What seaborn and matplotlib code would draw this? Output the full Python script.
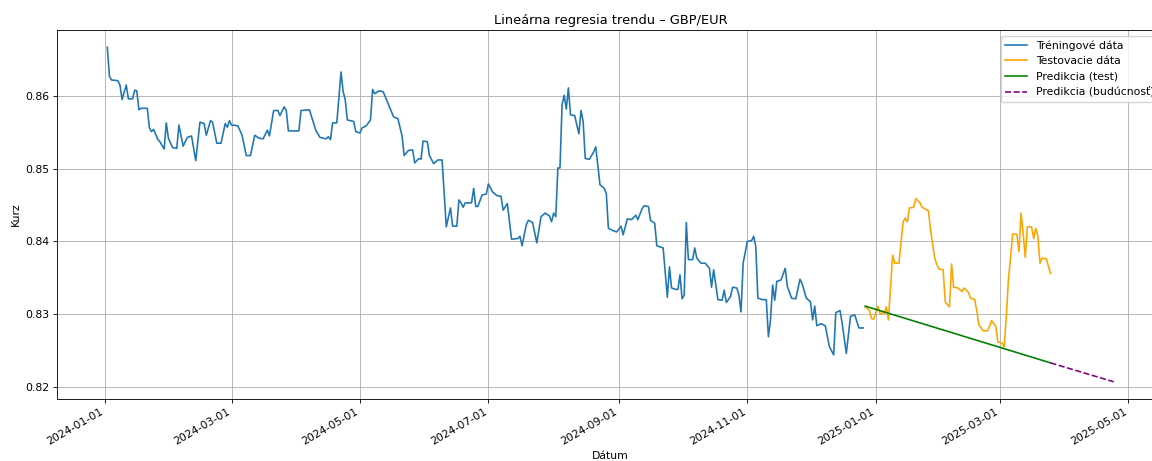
import matplotlib
matplotlib.use("Agg")
import matplotlib.pyplot as plt
import matplotlib.dates as mdates
import pandas as pd
import seaborn as sns

# --- GBP/EUR exchange rate: training period -------------------------------
train_dates = [
    "2024-01-02", "2024-01-03", "2024-01-04", "2024-01-07", "2024-01-08", "2024-01-09",
    "2024-01-11", "2024-01-12", "2024-01-14", "2024-01-15", "2024-01-16", "2024-01-17",
    "2024-01-18", "2024-01-21", "2024-01-22", "2024-01-23", "2024-01-24", "2024-01-26",
    "2024-01-27", "2024-01-29", "2024-01-30", "2024-01-31", "2024-02-02", "2024-02-04",
    "2024-02-05", "2024-02-07", "2024-02-09", "2024-02-11", "2024-02-13", "2024-02-15",
    "2024-02-17", "2024-02-18", "2024-02-20", "2024-02-21", "2024-02-23", "2024-02-25",
    "2024-02-27", "2024-02-28", "2024-02-29", "2024-03-01", "2024-03-04", "2024-03-06",
    "2024-03-08", "2024-03-10", "2024-03-12", "2024-03-14", "2024-03-16", "2024-03-18",
    "2024-03-19", "2024-03-21", "2024-03-23", "2024-03-24", "2024-03-26", "2024-03-27",
    "2024-03-28", "2024-04-02", "2024-04-03", "2024-04-07", "2024-04-10", "2024-04-12",
    "2024-04-15", "2024-04-16", "2024-04-17", "2024-04-18", "2024-04-20", "2024-04-22",
    "2024-04-23", "2024-04-24", "2024-04-25", "2024-04-28", "2024-04-29", "2024-05-01",
    "2024-05-02", "2024-05-04", "2024-05-06", "2024-05-07", "2024-05-08", "2024-05-10",
    "2024-05-12", "2024-05-13", "2024-05-15", "2024-05-17", "2024-05-19", "2024-05-21",
    "2024-05-22", "2024-05-24", "2024-05-26", "2024-05-27", "2024-05-29", "2024-05-30",
    "2024-05-31", "2024-06-02", "2024-06-03", "2024-06-05", "2024-06-07", "2024-06-09",
    "2024-06-11", "2024-06-13", "2024-06-14", "2024-06-16", "2024-06-17", "2024-06-18",
    "2024-06-19", "2024-06-20", "2024-06-23", "2024-06-24", "2024-06-25", "2024-06-26",
    "2024-06-28", "2024-06-30", "2024-07-01", "2024-07-03", "2024-07-05", "2024-07-07",
    "2024-07-08", "2024-07-10", "2024-07-12", "2024-07-15", "2024-07-16", "2024-07-17",
    "2024-07-19", "2024-07-20", "2024-07-22", "2024-07-24", "2024-07-26", "2024-07-28",
    "2024-07-30", "2024-07-31", "2024-08-01", "2024-08-02", "2024-08-03", "2024-08-04",
    "2024-08-05", "2024-08-06", "2024-08-07", "2024-08-08", "2024-08-09", "2024-08-11",
    "2024-08-12", "2024-08-13", "2024-08-14", "2024-08-15", "2024-08-16", "2024-08-18",
    "2024-08-20", "2024-08-21", "2024-08-23", "2024-08-25", "2024-08-26", "2024-08-27",
    "2024-08-29", "2024-08-31", "2024-09-02", "2024-09-03", "2024-09-05", "2024-09-07",
    "2024-09-09", "2024-09-10", "2024-09-12", "2024-09-13", "2024-09-15", "2024-09-16",
    "2024-09-18", "2024-09-19", "2024-09-22", "2024-09-24", "2024-09-25", "2024-09-26",
    "2024-09-28", "2024-09-29", "2024-09-30", "2024-10-01", "2024-10-02", "2024-10-03",
    "2024-10-04", "2024-10-06", "2024-10-07", "2024-10-08", "2024-10-10", "2024-10-12",
    "2024-10-14", "2024-10-15", "2024-10-16", "2024-10-18", "2024-10-20", "2024-10-21",
    "2024-10-22", "2024-10-24", "2024-10-25", "2024-10-27", "2024-10-28", "2024-10-29",
    "2024-10-30", "2024-11-01", "2024-11-03", "2024-11-04", "2024-11-05", "2024-11-06",
    "2024-11-08", "2024-11-10", "2024-11-11", "2024-11-12", "2024-11-13", "2024-11-14",
    "2024-11-15", "2024-11-17", "2024-11-19", "2024-11-20", "2024-11-22", "2024-11-24",
    "2024-11-26", "2024-11-27", "2024-11-29", "2024-12-01", "2024-12-02", "2024-12-03",
    "2024-12-04", "2024-12-06", "2024-12-08", "2024-12-10", "2024-12-12", "2024-12-13",
    "2024-12-15", "2024-12-16", "2024-12-18", "2024-12-20", "2024-12-22", "2024-12-24",
    "2024-12-26",
]
train_rates = [
    0.8667, 0.8627, 0.8622, 0.8621, 0.8615, 0.8595,
    0.8615, 0.8596, 0.8596, 0.8608, 0.8607, 0.8581,
    0.8583, 0.8583, 0.8556, 0.8551, 0.8554, 0.8540,
    0.8537, 0.8527, 0.8563, 0.8542, 0.8529, 0.8528,
    0.8560, 0.8531, 0.8543, 0.8545, 0.8511, 0.8564,
    0.8562, 0.8546, 0.8566, 0.8564, 0.8535, 0.8535,
    0.8562, 0.8557, 0.8566, 0.8560, 0.8559, 0.8546,
    0.8518, 0.8518, 0.8546, 0.8542, 0.8541, 0.8553,
    0.8545, 0.8580, 0.8580, 0.8573, 0.8585, 0.8580,
    0.8552, 0.8552, 0.8580, 0.8581, 0.8553, 0.8543,
    0.8541, 0.8544, 0.8540, 0.8563, 0.8563, 0.8633,
    0.8606, 0.8595, 0.8567, 0.8565, 0.8551, 0.8549,
    0.8556, 0.8559, 0.8567, 0.8609, 0.8603, 0.8607,
    0.8606, 0.8599, 0.8585, 0.8571, 0.8569, 0.8545,
    0.8518, 0.8525, 0.8526, 0.8508, 0.8514, 0.8513,
    0.8538, 0.8537, 0.8518, 0.8507, 0.8512, 0.8512,
    0.8420, 0.8446, 0.8421, 0.8421, 0.8457, 0.8453,
    0.8447, 0.8453, 0.8453, 0.8473, 0.8448, 0.8448,
    0.8464, 0.8465, 0.8479, 0.8468, 0.8463, 0.8462,
    0.8443, 0.8452, 0.8403, 0.8404, 0.8407, 0.8394,
    0.8423, 0.8429, 0.8426, 0.8398, 0.8434, 0.8439,
    0.8435, 0.8427, 0.8439, 0.8434, 0.8501, 0.8501,
    0.8588, 0.8601, 0.8582, 0.8611, 0.8574, 0.8573,
    0.8560, 0.8548, 0.8580, 0.8565, 0.8514, 0.8513,
    0.8523, 0.8530, 0.8478, 0.8473, 0.8466, 0.8418,
    0.8415, 0.8413, 0.8421, 0.8409, 0.8431, 0.8430,
    0.8436, 0.8430, 0.8445, 0.8449, 0.8448, 0.8429,
    0.8425, 0.8394, 0.8391, 0.8323, 0.8365, 0.8336,
    0.8334, 0.8334, 0.8354, 0.8321, 0.8326, 0.8426,
    0.8375, 0.8375, 0.8391, 0.8377, 0.8370, 0.8370,
    0.8363, 0.8337, 0.8361, 0.8320, 0.8319, 0.8333,
    0.8316, 0.8324, 0.8337, 0.8336, 0.8326, 0.8303,
    0.8370, 0.8400, 0.8401, 0.8407, 0.8393, 0.8322,
    0.8320, 0.8320, 0.8269, 0.8292, 0.8340, 0.8319,
    0.8345, 0.8347, 0.8363, 0.8338, 0.8322, 0.8321,
    0.8348, 0.8342, 0.8322, 0.8317, 0.8292, 0.8311,
    0.8284, 0.8287, 0.8284, 0.8255, 0.8244, 0.8302,
    0.8305, 0.8288, 0.8246, 0.8297, 0.8299, 0.8281,
    0.8281,
]

# --- test period ---------------------------------------------------------
test_dates = [
    "2024-12-27", "2024-12-29", "2024-12-30", "2024-12-31", "2025-01-02", "2025-01-03",
    "2025-01-05", "2025-01-06", "2025-01-07", "2025-01-09", "2025-01-10", "2025-01-12",
    "2025-01-14", "2025-01-15", "2025-01-16", "2025-01-17", "2025-01-19", "2025-01-20",
    "2025-01-22", "2025-01-23", "2025-01-26", "2025-01-27", "2025-01-29", "2025-01-30",
    "2025-01-31", "2025-02-02", "2025-02-03", "2025-02-04", "2025-02-05", "2025-02-06",
    "2025-02-07", "2025-02-09", "2025-02-11", "2025-02-12", "2025-02-14", "2025-02-15",
    "2025-02-17", "2025-02-18", "2025-02-19", "2025-02-21", "2025-02-23", "2025-02-24",
    "2025-02-25", "2025-02-27", "2025-02-28", "2025-03-02", "2025-03-03", "2025-03-04",
    "2025-03-05", "2025-03-06", "2025-03-07", "2025-03-09", "2025-03-10", "2025-03-11",
    "2025-03-12", "2025-03-13", "2025-03-14", "2025-03-16", "2025-03-17", "2025-03-18",
    "2025-03-19", "2025-03-20", "2025-03-21", "2025-03-23", "2025-03-25",
]
test_rates = [
    0.8310, 0.8305, 0.8294, 0.8293, 0.8311, 0.8301,
    0.8301, 0.8310, 0.8292, 0.8381, 0.8370, 0.8370,
    0.8427, 0.8432, 0.8427, 0.8446, 0.8447, 0.8459,
    0.8453, 0.8447, 0.8442, 0.8416, 0.8377, 0.8368,
    0.8362, 0.8361, 0.8317, 0.8313, 0.8310, 0.8369,
    0.8337, 0.8336, 0.8331, 0.8336, 0.8330, 0.8322,
    0.8320, 0.8304, 0.8285, 0.8277, 0.8277, 0.8283,
    0.8291, 0.8283, 0.8262, 0.8260, 0.8255, 0.8297,
    0.8347, 0.8377, 0.8410, 0.8410, 0.8386, 0.8439,
    0.8411, 0.8378, 0.8420, 0.8420, 0.8404, 0.8418,
    0.8407, 0.8370, 0.8377, 0.8376, 0.8356,
]

# --- linear trend: prediction over the test period and 30 days ahead ------
pred_test_dates = ["2024-12-27", "2025-03-25"]
pred_test_rates = [0.8311, 0.8233]
pred_future_dates = ["2025-03-25", "2025-04-24"]
pred_future_rates = [0.8233, 0.8207]

train = pd.DataFrame({"Dátum": pd.to_datetime(train_dates), "Kurz": train_rates})
test = pd.DataFrame({"Dátum": pd.to_datetime(test_dates), "Kurz": test_rates})
pred_test = pd.DataFrame({"Dátum": pd.to_datetime(pred_test_dates), "Kurz": pred_test_rates})
pred_future = pd.DataFrame({"Dátum": pd.to_datetime(pred_future_dates), "Kurz": pred_future_rates})

S = 0.78  # overall size factor for fonts and lines
plt.rcParams.update({
    "font.family": ["DejaVu Sans"],
    "font.size": 10 * S,
    "axes.linewidth": 0.8 * S,
    "xtick.major.size": 3.5 * S,
    "ytick.major.size": 3.5 * S,
    "xtick.major.width": 0.8 * S,
    "ytick.major.width": 0.8 * S,
    "xtick.major.pad": 3.5 * S,
    "ytick.major.pad": 3.5 * S,
})

fig = plt.figure(figsize=(11.52, 4.61), dpi=100)
W, H = 1152, 461
ax = fig.add_axes([57 / W, (H - 398.5) / H, (1164 - 57) / W, (398.5 - 30.5) / H])

lw = 1.5 * S
sns.lineplot(data=train, x="Dátum", y="Kurz", ax=ax, color="tab:blue", lw=lw,
             label="Tréningové dáta")
sns.lineplot(data=test, x="Dátum", y="Kurz", ax=ax, color="orange", lw=lw,
             label="Testovacie dáta")
sns.lineplot(data=pred_test, x="Dátum", y="Kurz", ax=ax, color="green", lw=lw,
             label="Predikcia (test)")
sns.lineplot(data=pred_future, x="Dátum", y="Kurz", ax=ax, color="purple", lw=lw,
             linestyle="--", label="Predikcia (budúcnosť)")

ax.set_title("Lineárna regresia trendu – GBP/EUR", fontsize=12 * S, pad=6 * S)
ax.set_xlabel("Dátum", labelpad=4 * S)
ax.set_ylabel("Kurz", labelpad=4 * S)

ax.xaxis.set_major_locator(mdates.MonthLocator(bymonth=[1, 3, 5, 7, 9, 11]))
ax.xaxis.set_major_formatter(mdates.DateFormatter("%Y-%m-%d"))
ax.set_yticks([0.82, 0.83, 0.84, 0.85, 0.86])
ax.set_yticklabels(["0.82", "0.83", "0.84", "0.85", "0.86"])
for lab in ax.get_xticklabels():
    lab.set_rotation(30)
    lab.set_ha("right")

ax.grid(True, color="#b0b0b0", lw=0.8 * S)
ax.legend(loc="upper right", fontsize=10 * S, frameon=True, fancybox=True,
          framealpha=0.8, edgecolor="#cccccc")

fig.savefig("out.png", dpi=100)
